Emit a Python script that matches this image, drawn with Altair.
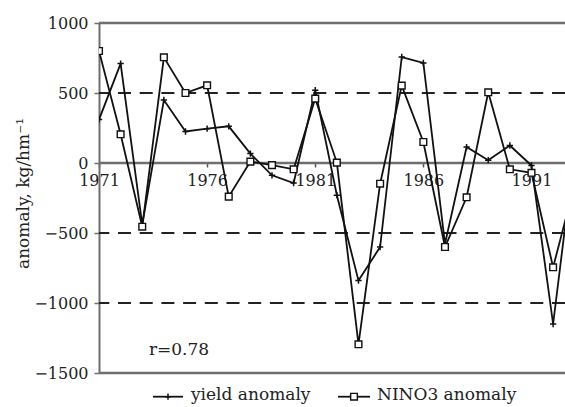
import altair as alt
import pandas as pd

years = list(range(1971, 1994))
yield_anom = [310, 710, -440, 450, 225, 245, 262, 67, -88, -143, 520, -230, -840, -600,
              757, 715, -578, 114, 20, 125, -18, -1150, 100]
nino3_anom = [800, 205, -455, 755, 500, 555, -240, 10, -15, -45, 460, 3, -1295, -148,
              553, 150, -600, -245, 505, -45, -70, -745, -150]
series_names = ["yield anomaly", "NINO3 anomaly"]
x_ticks = [1971, 1976, 1981, 1986, 1991]
y_ticks = [-1500, -1000, -500, 0, 500, 1000]
solid_levels = [1000, 0, -1500]
dashed_levels = [500, -500, -1000]
r_text = "r=0.78"
y_title = "anomaly, kg/hm\u207b\u00b9"

FONT = "DejaVu Serif"
PLUS = "M-1,0H1M0,-1V1"

df = pd.DataFrame({"year": years, "yield": yield_anom, "nino3": nino3_anom})

xscale = alt.Scale(domain=[1971, 1992.55], nice=False, zero=False)
yscale = alt.Scale(domain=[-1500, 1000], nice=False, zero=False)
xaxis = alt.Axis(values=x_ticks, format="d", offset=-210, domain=False, grid=False,
                 labelFlush=False, labelOverlap=False,
                 tickSize=4, tickColor="#555", tickWidth=1.5, labelPadding=5,
                 labelFont=FONT, labelFontSize=16, labelColor="#222")
yaxis = alt.Axis(values=y_ticks, format="d", grid=False, domain=True, domainColor="#6e6e6e",
                 labelFlush=False, labelOverlap=False,
                 domainWidth=2, tickColor="#6e6e6e", tickWidth=1.5, tickSize=5,
                 labelPadding=6, labelFont=FONT, labelFontSize=16, labelColor="#222",
                 titleFont=FONT, titleFontSize=17, titleFontWeight="normal",
                 titleColor="#222", titleAngle=-90, titleX=-71, titleY=170,
                 titleAlign="center", titleBaseline="alphabetic")

X = alt.X("year:Q", scale=xscale, axis=xaxis, title=None)

def Y(field):
    return alt.Y(field, type="quantitative", scale=yscale, axis=yaxis, title=y_title)

solid = alt.Chart(pd.DataFrame({"level": solid_levels})).mark_rule(
    color="#6e6e6e", strokeWidth=2.5).encode(y=Y("level"))
dashed = alt.Chart(pd.DataFrame({"level": dashed_levels})).mark_rule(
    color="#222", strokeWidth=1.8, strokeDash=[13, 8.7]).encode(y=Y("level"))

LW = 1.8
base = alt.Chart(df).encode(x=X)
yield_line = base.mark_line(color="#111", strokeWidth=LW, clip=True).encode(y=Y("yield"))
yield_pts = base.mark_point(shape=PLUS, size=40, color="#111", strokeWidth=1.5,
                            opacity=1, clip=True).encode(y=Y("yield"))
nino_line = base.mark_line(color="#111", strokeWidth=LW, clip=True).encode(y=Y("nino3"))
nino_pts = base.mark_point(shape="square", size=45, fill="white", fillOpacity=1,
                           stroke="#111", strokeWidth=1.4, opacity=1,
                           clip=True).encode(y=Y("nino3"))

one = pd.DataFrame({"k": [0]})
rtxt = alt.Chart(one).mark_text(text=r_text, font=FONT, fontSize=17, color="#222",
                                align="center", baseline="alphabetic").encode(
    x=alt.value(80), y=alt.value(332))

leg_y = 373.7
leg1_rule = alt.Chart(one).mark_rule(color="#111", strokeWidth=LW).encode(
    x=alt.value(54), x2=alt.value(84), y=alt.value(leg_y))
leg1_pt = alt.Chart(one).mark_point(shape=PLUS, size=40, color="#111", strokeWidth=1.5,
                                    opacity=1).encode(x=alt.value(69), y=alt.value(leg_y))
leg1_txt = alt.Chart(one).mark_text(text=series_names[0], font=FONT, fontSize=17,
                                    color="#222", align="left", baseline="alphabetic").encode(
    x=alt.value(92), y=alt.value(377))
leg2_rule = alt.Chart(one).mark_rule(color="#111", strokeWidth=LW).encode(
    x=alt.value(239), x2=alt.value(271), y=alt.value(leg_y))
leg2_pt = alt.Chart(one).mark_point(shape="square", size=45, fill="white", fillOpacity=1,
                                    stroke="#111", strokeWidth=1.4, opacity=1).encode(
    x=alt.value(255), y=alt.value(leg_y))
leg2_txt = alt.Chart(one).mark_text(text=series_names[1], font=FONT, fontSize=17,
                                    color="#222", align="left", baseline="alphabetic").encode(
    x=alt.value(278), y=alt.value(377))

chart = alt.layer(
    dashed, solid, yield_line, nino_line, yield_pts, nino_pts, rtxt,
    leg1_rule, leg1_pt, leg1_txt, leg2_rule, leg2_pt, leg2_txt
).properties(
    width=466, height=350,
    autosize=alt.AutoSizeParams(type="none"),
    padding={"left": 99, "top": 23, "right": 0, "bottom": 34},
    background="white",
).configure_view(stroke=None)

chart.save("out.html", embed_options={"renderer": "svg", "actions": False})
